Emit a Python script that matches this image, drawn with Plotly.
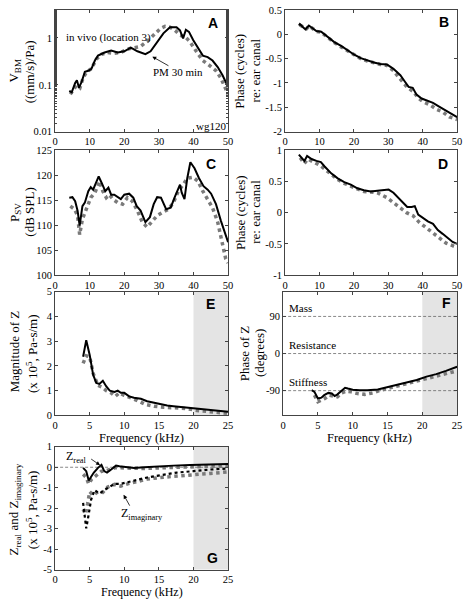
import numpy as np
import plotly.graph_objects as go

# ---------------- data ----------------
# Panel A: V_BM magnitude ((mm/s)/Pa)
a_x_solid = [4.1, 4.8, 5.8, 6.3, 6.9, 7.7, 8.6, 9.6, 10.5, 11.5, 12.4, 14.3, 16.2, 18.1, 20, 21.9, 23.8, 26.1, 27.6, 29.4,
             31.3, 33.2, 35.1, 36.1, 37, 37.8, 38.7, 39.9, 41.3, 42.7, 44.1, 45.5, 47, 48.4, 50]
a_y_solid = [0.074, 0.069, 0.11, 0.125, 0.087, 0.117, 0.19, 0.20, 0.22, 0.33, 0.42, 0.49, 0.54, 0.49, 0.52, 0.62, 0.52, 0.45, 0.52, 0.78,
             1.26, 1.70, 1.70, 1.45, 0.98, 1.5, 1.35, 0.91, 0.62, 0.42, 0.39, 0.33, 0.24, 0.16, 0.09]
a_x_dot = [4.4, 5.3, 6.3, 7.2, 8.1, 9.1, 10.5, 11.9, 13.4, 15.2, 17.1, 19, 20.9, 22.8, 24.7, 26.6, 28.5, 30.4, 31.8, 33.2,
           34.7, 36.1, 37.5, 38.9, 40.8, 42.7, 44.6, 46.5, 47.9, 49.3, 50]
a_y_dot = [0.063, 0.079, 0.10, 0.087, 0.14, 0.19, 0.22, 0.35, 0.45, 0.49, 0.47, 0.49, 0.58, 0.62, 0.66, 0.85, 1.15, 1.58, 1.78, 1.70,
           1.45, 1.15, 1.07, 0.85, 0.52, 0.33, 0.26, 0.20, 0.14, 0.08, 0.063]

# Panel B: V_BM phase (cycles re: ear canal)
b_x_solid = [4.0, 4.3, 5.3, 5.9, 6.9, 7.8, 9.1, 10.5, 12.4, 14.3, 16.3, 18.2, 20.1, 22, 23.9, 25.8, 27.7, 29.6, 31.5, 33.5,
             34.9, 35.9, 37.1, 38.2, 39.7, 41.1, 43, 44.9, 46.8, 48.8, 50]
b_y_solid = [0.18, 0.21, 0.14, 0.10, 0.18, 0.13, 0.065, 0.05, -0.065, -0.16, -0.24, -0.33, -0.42, -0.49, -0.54, -0.58, -0.61, -0.62, -0.71, -0.84,
             -0.98, -1.08, -1.10, -1.24, -1.32, -1.36, -1.41, -1.49, -1.57, -1.65, -1.70]
b_x_dot = [4.3, 5.3, 6.2, 7, 8, 9.1, 10.5, 12.4, 14.3, 16.3, 18.2, 20.1, 22, 23.9, 25.8, 27.7, 29.6, 31.5, 33.5, 35.4,
           37.3, 38.7, 40.2, 42.1, 44, 45.9, 47.8, 50]
b_y_dot = [0.19, 0.15, 0.11, 0.17, 0.12, 0.06, 0.04, -0.07, -0.17, -0.26, -0.34, -0.43, -0.50, -0.55, -0.59, -0.62, -0.64, -0.75, -0.92, -1.08,
           -1.18, -1.31, -1.39, -1.45, -1.54, -1.60, -1.70, -1.75]

# Panel C: P_SV (dB SPL)
c_x_solid = [4.1, 5.0, 5.8, 6.5, 7.1, 7.9, 8.6, 9.6, 10.3, 11, 11.6, 12.6, 13.5, 14.5, 15.4, 16.2, 17.1, 18.1, 19, 20,
             21.4, 22.6, 23.6, 24.7, 26.1, 27.4, 28.5, 29.5, 30.6, 32.1, 33.4, 34.7, 36.1, 36.6, 37.4, 38.2, 39.1, 40.3, 41.6, 42.9,
             44.1, 45.1, 46.5, 47.9, 49.3, 50]
c_y_solid = [115.5, 115.6, 114.8, 112.9, 109.9, 113.8, 114.5, 116.8, 117.6, 117.1, 118.1, 119.75, 118.4, 116.8, 117.5, 116.1, 116.1, 115.6, 115.2, 116.1,
             116.3, 115.5, 113.8, 112.9, 110.6, 111.6, 114.2, 115.6, 115.5, 113.2, 113.5, 115.8, 118.1, 116.5, 115.2, 119.4, 122.6, 121.4, 119.4, 117.8,
             117.1, 116.3, 114.2, 110.9, 107.9, 106.6]
c_x_dot = [4.4, 5.6, 6.5, 7.1, 7.9, 9.1, 10.3, 11.5, 12.9, 13.8, 14.8, 15.7, 16.7, 18.1, 19.5, 20.9, 22.3, 23.8, 25.2, 26.6,
           28, 29.5, 30.9, 32.8, 34.2, 35.6, 37, 38.2, 39.9, 41.3, 42.7, 44.1, 45.5, 47, 48.2, 49.3, 50]
c_y_dot = [113.8, 113.2, 111.9, 108.1, 111.2, 113.2, 115.5, 116.5, 118.8, 116.8, 115.5, 116.1, 115.2, 114.5, 114.2, 115.5, 114.8, 112.9, 110.6, 109.6,
           110.6, 111.9, 112.5, 113.2, 114.5, 116.8, 118.1, 119.4, 119.6, 118.8, 116.8, 115.2, 113.5, 110.6, 107, 103.3, 102.4]

# Panel D: P_SV phase (cycles re: ear canal)
d_x_solid = [4, 5.6, 6.4, 7.7, 9.1, 10.4, 11.5, 13.4, 15.3, 17.2, 19.1, 21, 22.9, 24.9, 26.8, 28.7, 30.1, 31.5, 32.9, 34.4,
             35.5, 36.8, 37.7, 38.7, 40.1, 41.5, 43, 44.4, 45.8, 47.2, 48.7, 50]
d_y_solid = [0.93, 0.83, 0.91, 0.86, 0.83, 0.81, 0.74, 0.63, 0.55, 0.49, 0.45, 0.39, 0.36, 0.34, 0.35, 0.36, 0.37, 0.32, 0.24, 0.16,
             0.09, 0.09, 0.105, -0.03, -0.09, -0.14, -0.18, -0.28, -0.34, -0.41, -0.47, -0.50]
d_x_dot = [4.4, 5.6, 6.6, 8.2, 10.1, 11.5, 13.4, 15.3, 17.2, 19.1, 21, 22.9, 24.9, 26.8, 28.2, 29.6, 31.5, 33.4, 35.3, 37.2,
           39.1, 41, 43, 44.9, 46.8, 48.7, 50]
d_y_dot = [0.88, 0.79, 0.86, 0.81, 0.76, 0.70, 0.61, 0.53, 0.47, 0.42, 0.38, 0.34, 0.33, 0.32, 0.28, 0.24, 0.16, 0.08, 0.0, -0.05,
           -0.16, -0.24, -0.33, -0.42, -0.49, -0.53, -0.56]

# Panel E: |Z| (x 1e5 Pa-s/m)
e_x_solid = [4.05, 4.5, 5, 5.5, 5.95, 6.4, 6.9, 7.4, 7.9, 8.6, 9.05, 9.5, 10, 10.7, 11.4, 12.4, 13.3, 14.3, 15.2, 16.2,
             17.1, 18.6, 20, 21.4, 22.9, 25]
e_y_solid = [2.37, 3.04, 2.44, 1.64, 1.31, 1.27, 1.40, 1.17, 1.0, 0.95, 1.0, 0.91, 0.91, 0.77, 0.71, 0.67, 0.57, 0.51, 0.44, 0.40,
             0.37, 0.33, 0.28, 0.24, 0.20, 0.15]
e_x_dot = [4.05, 4.5, 5, 5.5, 6.2, 6.7, 7.4, 8.1, 8.7, 9.3, 10, 11, 11.9, 13.1, 14.3, 15.7, 17.1, 18.8, 20.5, 22.1, 23.8, 25]
e_y_dot = [2.1, 2.41, 2.37, 1.7, 1.21, 1.15, 1.0, 0.91, 0.77, 0.91, 0.81, 0.71, 0.6, 0.44, 0.37, 0.33, 0.31, 0.28, 0.2, 0.15, 0.11, 0.08]

# Panel F: phase of Z (degrees)
f_x_solid = [4.1, 4.5, 5, 5.5, 5.9, 6.5, 7, 7.4, 7.8, 8.4, 8.9, 9.3, 10, 11, 12.1, 13.6, 15, 16.4, 17.8, 19.2, 20.6, 22, 23.4, 25]
f_y_solid = [-89, -93, -109, -107, -101, -95.5, -97, -103, -99, -89, -83, -85, -88, -89, -89, -87, -81, -75, -69, -64, -56, -50, -42, -32]
f_x_dot = [4.5, 5, 5.5, 6, 6.6, 7.2, 7.8, 8.4, 9.1, 9.8, 10.7, 11.7, 12.9, 14, 15.4, 16.9, 18.3, 19.7, 21.1, 22.5, 23.9, 25]
f_y_dot = [-101, -117, -113, -109, -101, -103, -105, -95.5, -91, -93, -97, -99, -95.5, -89, -83, -77, -71, -65.5, -59, -54, -48, -42]
f_ref_levels = [90, 0, -90]
f_ref_names = ["Mass", "Resistance", "Stiffness"]

# Panel G: Z real / imaginary (x 1e5 Pa-s/m)
g_x_real_solid = [4.05, 4.5, 4.86, 5.1, 5.6, 6.2, 6.7, 7.1, 7.5, 8.1, 8.8, 9.3, 10, 11.4, 12.9, 14.8, 17.1, 19.5, 22.4, 25]
g_y_real_solid = [-0.03, -0.19, -0.65, -0.5, -0.26, -0.03, 0.12, -0.19, -0.26, -0.11, 0.08, 0.05, 0.02, -0.03, 0, 0.05, 0.08, 0.11, 0.12, 0.16]
g_x_real_gray = [4.05, 4.5, 4.86, 5.3, 6, 6.7, 7.2, 7.9, 8.6, 9.5, 11, 12.9, 15.2, 17.6, 20, 22.4, 25]
g_y_real_gray = [-0.34, -0.5, -0.81, -0.58, -0.39, -0.19, -0.19, -0.11, -0.03, -0.03, -0.06, -0.06, -0.03, 0, 0.03, 0.05, 0.05]
g_x_imag_black = [4.05, 4.3, 4.5, 4.86, 5.2, 5.7, 6.4, 7.1, 7.9, 8.6, 9.5, 10.5, 11.9, 13.3, 15.2, 17.6, 20, 22.4, 25]
g_y_imag_black = [-1.74, -2.45, -2.99, -2.29, -1.59, -1.12, -1.28, -1.12, -0.97, -0.81, -0.81, -0.73, -0.61, -0.5, -0.39, -0.26, -0.19, -0.11, -0.06]
g_x_imag_gray = [4.05, 4.4, 4.7, 5, 5.5, 6.2, 6.9, 7.6, 8.6, 9.5, 10.5, 11.9, 13.3, 15.2, 17.6, 20, 22.4, 25]
g_y_imag_gray = [-2.06, -2.29, -1.79, -1.2, -1.36, -1.2, -1.23, -0.97, -0.84, -0.92, -0.81, -0.7, -0.58, -0.5, -0.42, -0.37, -0.3, -0.23]

shade_range = [20, 25]

ticks_50 = [0, 10, 20, 30, 40, 50]
ticks_25 = [0, 5, 10, 15, 20, 25]
ticks_a = [0.01, 0.1, 1]
ticks_b = [-2, -1.5, -1, -0.5, 0, 0.5]
ticks_c = [100, 105, 110, 115, 120, 125]
ticks_d = [-1, -0.5, 0, 0.5, 1]
ticks_e = [0, 1, 2, 3, 4, 5]
ticks_f = [-90, 0, 90]
ticks_g = [-5, -4, -3, -2, -1, 0, 1]

# ---------------- styling ----------------
W, H = 468, 604
SERIF = "Liberation Serif"
SANS = "Liberation Sans"
BLACK_LINE = dict(color="black", width=2)
GRAY_DOT = dict(color="#7a7a7a", width=3.5, dash="dot")
BLACK_DOT = dict(color="black", width=2.2, dash="dot")

# pixel boxes (left, right, top, bottom)
boxes = {
    1: (53, 229, 5, 129),
    2: (287, 462, 5, 129),
    3: (53, 229, 148, 275),
    4: (287, 462, 148, 275),
    5: (53, 229, 292, 418),
    6: (285, 462, 292, 418),
    7: (53, 229, 450, 575),
}

fig = go.Figure()


def add(i, x, y, line):
    sfx = "" if i == 1 else str(i)
    fig.add_trace(go.Scatter(x=x, y=y, mode="lines", line=line, xaxis="x" + sfx, yaxis="y" + sfx,
                             showlegend=False, hoverinfo="skip"))


add(1, a_x_dot, a_y_dot, GRAY_DOT)
add(1, a_x_solid, a_y_solid, BLACK_LINE)
add(2, b_x_dot, b_y_dot, GRAY_DOT)
add(2, b_x_solid, b_y_solid, BLACK_LINE)
add(3, c_x_dot, c_y_dot, GRAY_DOT)
add(3, c_x_solid, c_y_solid, BLACK_LINE)
add(4, d_x_dot, d_y_dot, GRAY_DOT)
add(4, d_x_solid, d_y_solid, BLACK_LINE)
add(5, e_x_dot, e_y_dot, GRAY_DOT)
add(5, e_x_solid, e_y_solid, BLACK_LINE)
add(6, f_x_dot, f_y_dot, GRAY_DOT)
add(6, f_x_solid, f_y_solid, BLACK_LINE)
add(7, g_x_real_gray, g_y_real_gray, GRAY_DOT)
add(7, g_x_imag_gray, g_y_imag_gray, GRAY_DOT)
add(7, g_x_imag_black, g_y_imag_black, BLACK_DOT)
add(7, g_x_real_solid, g_y_real_solid, BLACK_LINE)


def fmt(v):
    return f"{v:g}"


def axis_style(**kw):
    d = dict(showline=True, linecolor="#444", linewidth=1, mirror="ticks", ticks="inside", ticklen=3,
             tickcolor="#444", showgrid=False, zeroline=False,
             tickfont=dict(family=SERIF, size=10.5, color="black"), fixedrange=True)
    d.update(kw)
    return d


layout = dict(width=W, height=H, margin=dict(l=0, r=0, t=0, b=0), paper_bgcolor="white", plot_bgcolor="white",
              font=dict(family=SERIF, color="black"))

yspec = {
    1: dict(type="log", range=[-2, 0.6], tickvals=ticks_a, ticktext=[fmt(v) for v in ticks_a],
            minor=dict(ticks="inside", ticklen=2, tickcolor="#444", showgrid=False)),
    2: dict(range=[-2, 0.5], tickvals=ticks_b, ticktext=[fmt(v) for v in ticks_b]),
    3: dict(range=[100, 125], tickvals=ticks_c, ticktext=[fmt(v) for v in ticks_c]),
    4: dict(range=[-1, 1], tickvals=ticks_d, ticktext=[fmt(v) for v in ticks_d]),
    5: dict(range=[0, 5], tickvals=ticks_e, ticktext=[fmt(v) for v in ticks_e]),
    6: dict(range=[-150, 150], tickvals=ticks_f, ticktext=[fmt(v) for v in ticks_f]),
    7: dict(range=[-5, 1], tickvals=ticks_g, ticktext=[fmt(v) for v in ticks_g]),
}
for i, (l, r, t, b) in boxes.items():
    sfx = "" if i == 1 else str(i)
    xt = ticks_50 if i <= 4 else ticks_25
    xr = [0, 50] if i <= 4 else [0, 25]
    layout["xaxis" + sfx] = axis_style(domain=[l / W, r / W], range=xr, tickvals=xt,
                                       ticktext=[fmt(v) for v in xt], anchor="y" + sfx)
    layout["yaxis" + sfx] = axis_style(domain=[1 - b / H, 1 - t / H], anchor="x" + sfx, **yspec[i])

fig.update_layout(**layout)

# shaded regions (E, F, G) and reference lines
shapes = []
for i in (5, 6, 7):
    shapes.append(dict(type="rect", xref=f"x{i}", yref=f"y{i} domain", x0=shade_range[0], x1=shade_range[1],
                       y0=0, y1=1, fillcolor="#e4e4e4", line=dict(width=0), layer="below"))
for lev in f_ref_levels:
    shapes.append(dict(type="line", xref="x6 domain", yref="y6", x0=0, x1=1, y0=lev, y1=lev,
                       line=dict(color="#555", width=0.7, dash="3px,2px"), layer="below"))
shapes.append(dict(type="line", xref="x7 domain", yref="y7", x0=0, x1=1, y0=0, y1=0,
                   line=dict(color="#555", width=0.7, dash="3px,2px"), layer="below"))
fig.update_layout(shapes=shapes)

ann = []
# panel letters
letters = {1: ("A", 0.91, 0.895), 2: ("B", 0.926, 0.90), 3: ("C", 0.90, 0.89), 4: ("D", 0.92, 0.89),
           5: ("E", 0.90, 0.90), 6: ("F", 0.94, 0.91), 7: ("G", 0.91, 0.09)}
for i, (s, xd, yd) in letters.items():
    sfx = "" if i == 1 else str(i)
    ann.append(dict(text=f"<b>{s}</b>", xref=f"x{sfx} domain", yref=f"y{sfx} domain", x=xd, y=yd,
                    xanchor="center", yanchor="middle",
                    showarrow=False, font=dict(family=SANS, size=14, color="black")))

# y-axis labels (two lines, rotated)
ylabels = [
    ("V<sub>BM</sub>", 12, 67, 13), ("((mm/s)/Pa)", 27, 68, 13),
    ("Phase (cycles)", 241, 67, 13), ("re: ear canal", 257, 67, 13),
    ("P<sub>SV</sub>", 12, 211, 13), ("(dB SPL)", 27, 211, 13),
    ("Phase (cycles)", 241, 211, 13), ("re: ear canal", 257, 211, 13),
    ("Magnitude of Z", 12, 353, 13), ("(x 10<sup>5</sup>, Pa-s/m)", 29, 355, 13),
    ("Phase of Z", 246, 355, 13), ("(degrees)", 261, 355, 13),
    ("Z<sub>real</sub> and Z<sub>imaginary</sub>", 12, 514, 13), ("(x 10<sup>5</sup>, Pa-s/m)", 29, 514, 13),
]
for txt, px, py, fs in ylabels:
    ann.append(dict(text=txt, xref="paper", yref="paper", x=px / W, y=1 - py / H, textangle=-90,
                    showarrow=False, font=dict(family=SERIF, size=fs, color="black"),
                    xanchor="center", yanchor="middle"))

# x-axis labels
for px, py, fs in [(141, 441, 12.5), (373, 441, 12.5), (141, 597.5, 12)]:
    ann.append(dict(text="Frequency (kHz)", xref="paper", yref="paper", x=px / W, y=1 - py / H,
                    xanchor="center", yanchor="middle",
                    showarrow=False, font=dict(family=SERIF, size=fs, color="black")))

# panel A text
ann.append(dict(text="in vivo (location 3)", xref="x", yref="y", x=15.3, y=np.log10(1.0), showarrow=False,
                font=dict(family=SERIF, size=11)))
ann.append(dict(text="PM 30 min", xref="x", yref="y", x=35.5, y=np.log10(0.19), showarrow=False,
                font=dict(family=SERIF, size=11)))
ann.append(dict(text="", xref="x", yref="y", x=28.1, y=np.log10(0.40), axref="x", ayref="y",
                ax=33.2, ay=np.log10(0.245), showarrow=True, arrowhead=2, arrowsize=1, arrowwidth=0.8,
                arrowcolor="black"))
ann.append(dict(text="wg120", xref="x", yref="y", x=45, y=np.log10(0.0135), showarrow=False,
                font=dict(family=SERIF, size=11)))

# panel F reference labels
for lev, name in zip(f_ref_levels, f_ref_names):
    ann.append(dict(text=name, xref="x6", yref="y6", x=0.55, y=lev + 21, xanchor="left", showarrow=False,
                    font=dict(family=SERIF, size=11)))

# panel G labels
ann.append(dict(text="Z<sub>real</sub>", xref="x7", yref="y7", x=1.3, y=0.5, xanchor="left", showarrow=False,
                font=dict(family=SERIF, size=12)))
ann.append(dict(text="", xref="x7", yref="y7", x=6.5, y=0.1, axref="x7", ayref="y7", ax=5.0, ay=0.45,
                showarrow=True, arrowhead=2, arrowsize=1, arrowwidth=0.8, arrowcolor="black"))
ann.append(dict(text="Z<sub>imaginary</sub>", xref="x7", yref="y7", x=9.2, y=-2.3, xanchor="left", showarrow=False,
                font=dict(family=SERIF, size=12)))
ann.append(dict(text="", xref="x7", yref="y7", x=9.9, y=-1.34, axref="x7", ayref="y7", ax=10.9, ay=-1.95,
                showarrow=True, arrowhead=2, arrowsize=1, arrowwidth=0.8, arrowcolor="black"))

fig.update_layout(annotations=ann)
fig.write_html("out.html", config={"displayModeBar": False},
               post_script="document.body.style.margin='0';document.body.style.overflow='hidden';")
